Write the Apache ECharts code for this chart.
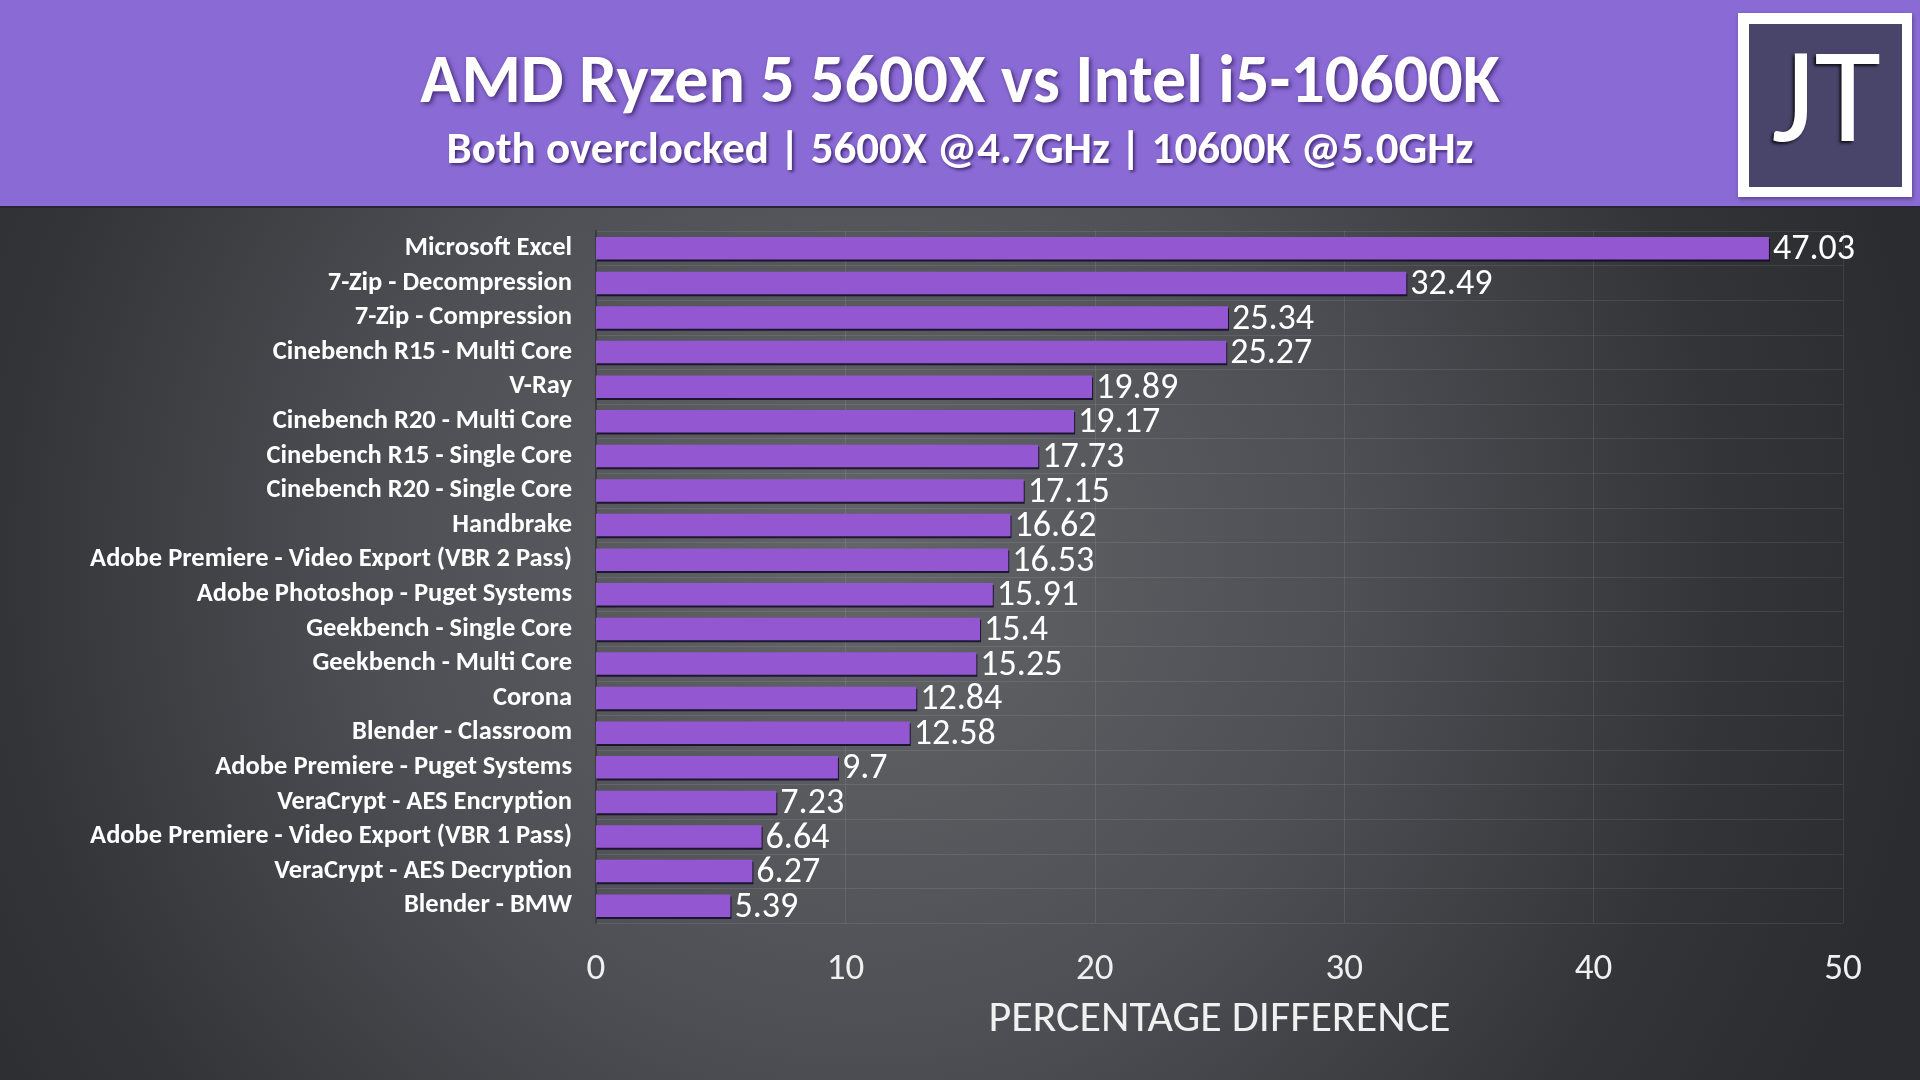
<!DOCTYPE html>
<html>
<head>
<meta charset="utf-8">
<script src="https://cdn.jsdelivr.net/npm/echarts@6/dist/echarts.min.js"></script>
<style>html,body{margin:0;padding:0;background:#333;}#c{width:1920px;height:1080px;}</style>
</head>
<body>
<div id="c"></div>
<script>
var categories = [
  'Microsoft Excel',
  '7-Zip - Decompression',
  '7-Zip - Compression',
  'Cinebench R15 - Multi Core',
  'V-Ray',
  'Cinebench R20 - Multi Core',
  'Cinebench R15 - Single Core',
  'Cinebench R20 - Single Core',
  'Handbrake',
  'Adobe Premiere - Video Export (VBR 2 Pass)',
  'Adobe Photoshop - Puget Systems',
  'Geekbench - Single Core',
  'Geekbench - Multi Core',
  'Corona',
  'Blender - Classroom',
  'Adobe Premiere - Puget Systems',
  'VeraCrypt - AES Encryption',
  'Adobe Premiere - Video Export (VBR 1 Pass)',
  'VeraCrypt - AES Decryption',
  'Blender - BMW'
];
var values = [47.03, 32.49, 25.34, 25.27, 19.89, 19.17, 17.73, 17.15, 16.62, 16.53, 15.91, 15.4, 15.25, 12.84, 12.58, 9.7, 7.23, 6.64, 6.27, 5.39];
var xTicks = [0, 10, 20, 30, 40, 50];
var titleText = 'AMD Ryzen 5 5600X vs Intel i5-10600K';
var subtitleText = 'Both overclocked | 5600X @4.7GHz | 10600K @5.0GHz';
var axisName = 'PERCENTAGE DIFFERENCE';

var FONT = 'Calibri, Carlito, "Open Sans", "Noto Sans", sans-serif';
var chart = echarts.init(document.getElementById('c'));
chart.setOption({
  backgroundColor: {
    type: 'radial', x: 0.45, y: 0.52, r: 1.0,
    colorStops: [
      {offset: 0, color: '#636569'},
      {offset: 0.45, color: '#4d4f54'},
      {offset: 0.8, color: '#323438'},
      {offset: 1, color: '#2a2c30'}
    ]
  },
  animation: false,
  graphic: [
    {type: 'rect', z: 0, shape: {x: 0, y: 0, width: 1920, height: 207}, style: {fill: '#8a6ad4'}},
    {type: 'rect', z: 0, shape: {x: 0, y: 206, width: 1920, height: 2}, style: {fill: '#2a2535'}},
    {type: 'rect', z: 1, shape: {x: 1738, y: 13, width: 174, height: 184}, style: {fill: '#ffffff', shadowColor: 'rgba(0,0,0,0.35)', shadowBlur: 4, shadowOffsetX: 1, shadowOffsetY: 2}},
    {type: 'rect', z: 2, shape: {x: 1749, y: 24, width: 153, height: 163}, style: {fill: '#48446a'}},
    {type: 'text', z: 3, x: 1826, y: 107, style: {text: 'JT', font: '400 136px Calibri, Carlito, "Open Sans", sans-serif', fill: '#ffffff', textAlign: 'center', textVerticalAlign: 'middle', textShadowColor: 'rgba(0,0,0,0.8)', textShadowBlur: 3, textShadowOffsetX: -2, textShadowOffsetY: 2}}
  ],
  title: [
    {text: titleText, left: 'center', top: 44, textStyle: {color: '#ffffff', fontFamily: FONT, fontWeight: 'bold', fontSize: 68, lineHeight: 72, textShadowColor: 'rgba(40,20,80,0.7)', textShadowBlur: 4, textShadowOffsetX: 2, textShadowOffsetY: 2}},
    {text: subtitleText, left: 'center', top: 123, textStyle: {color: '#ffffff', fontFamily: FONT, fontWeight: 'bold', fontSize: 45, lineHeight: 48, textShadowColor: 'rgba(40,20,80,0.7)', textShadowBlur: 3, textShadowOffsetX: 2, textShadowOffsetY: 2}}
  ],
  grid: {left: 596, right: 77, top: 231, bottom: 157, containLabel: false},
  xAxis: {
    type: 'value', min: 0, max: 50, interval: 10,
    name: axisName, nameLocation: 'middle', nameGap: 75,
    nameTextStyle: {color: '#f0f0f0', fontFamily: FONT, fontSize: 44},
    axisLine: {show: false}, axisTick: {show: false},
    axisLabel: {color: '#f0f0f0', fontFamily: FONT, fontSize: 37, margin: 28,
      formatter: function (v) { return xTicks.indexOf(v) >= 0 ? String(v) : ''; }},
    splitLine: {show: true, lineStyle: {color: 'rgba(255,255,255,0.09)', width: 1}}
  },
  yAxis: {
    type: 'category', data: categories, inverse: true,
    axisLine: {show: true, lineStyle: {color: '#3a3b3f', width: 2}},
    axisTick: {show: false},
    axisLabel: {interval: 0, color: '#ffffff', fontFamily: FONT, fontWeight: 600, fontSize: 26.5, margin: 24, padding: [4, 0, 0, 0]},
    splitLine: {show: true, interval: 0, lineStyle: {color: 'rgba(255,255,255,0.09)', width: 1}}
  },
  series: [{
    type: 'bar', data: values, barCategoryGap: '35%',
    itemStyle: {color: '#9457d2', shadowColor: 'rgba(20,10,40,0.85)', shadowBlur: 0, shadowOffsetX: 1, shadowOffsetY: 2},
    label: {show: true, position: 'right', distance: 4, offset: [0, 2], color: '#ffffff', fontFamily: FONT, fontSize: 36}
  }]
});
</script>
</body>
</html>
